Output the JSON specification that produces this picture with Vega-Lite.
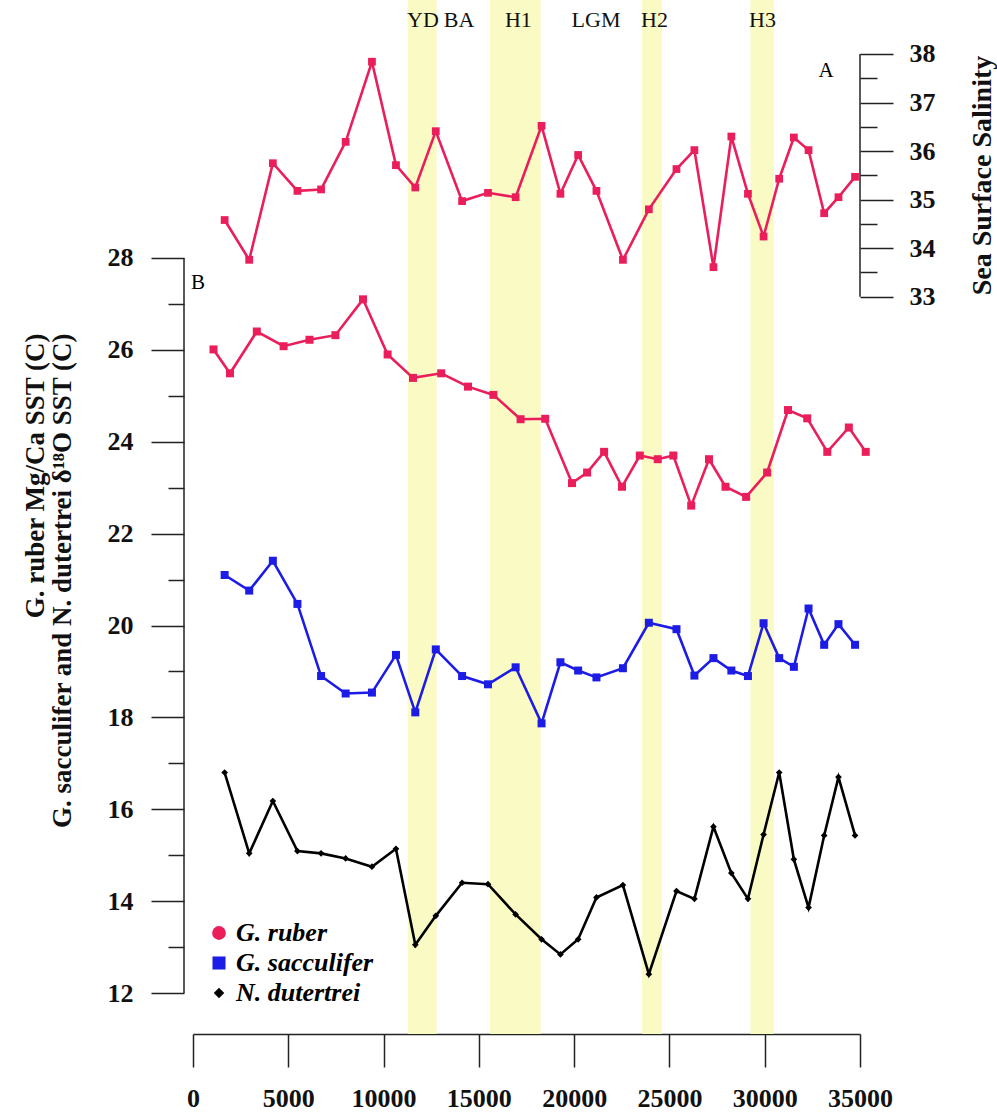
{
  "$schema": "https://vega.github.io/schema/vega-lite/v6.json",
  "width": 667,
  "height": 1034,
  "autosize": {"type": "none"},
  "padding": {"left": 193, "top": 0, "right": 137, "bottom": 80},
  "background": "white",
  "config": {
    "view": {"stroke": null},
    "axis": {"grid": false, "domainColor": "#222", "tickColor": "#222", "labelColor": "#111", "titleColor": "#111"}
  },
  "datasets": {
    "bands": [
      {"period": "YD", "start": 11266, "end": 12788},
      {"period": "H1", "start": 15585, "end": 18246},
      {"period": "H2", "start": 23561, "end": 24610},
      {"period": "H3", "start": 29254, "end": 30477}
    ],
    "periods": [
      {"label": "YD", "year": 12069},
      {"label": "BA", "year": 13958},
      {"label": "H1", "year": 17075},
      {"label": "LGM", "year": 21147},
      {"label": "H2", "year": 24217},
      {"label": "H3", "year": 29884}
    ],
    "panels": [
      {"label": "A", "year": 33216, "value": 37.65},
      {"label": "B", "year": 262, "value": 27.46}
    ],
    "sss": [
      {"year": 1660, "salinity": 34.58}, {"year": 2950, "salinity": 33.76}, {"year": 4190, "salinity": 35.75},
      {"year": 5480, "salinity": 35.18}, {"year": 6720, "salinity": 35.21}, {"year": 8010, "salinity": 36.19},
      {"year": 9390, "salinity": 37.84}, {"year": 10650, "salinity": 35.71}, {"year": 11665, "salinity": 35.25},
      {"year": 12740, "salinity": 36.41}, {"year": 14120, "salinity": 34.97}, {"year": 15480, "salinity": 35.14},
      {"year": 16930, "salinity": 35.05}, {"year": 18290, "salinity": 36.52}, {"year": 19280, "salinity": 35.12},
      {"year": 20210, "salinity": 35.92}, {"year": 21170, "salinity": 35.18}, {"year": 22560, "salinity": 33.76},
      {"year": 23920, "salinity": 34.80}, {"year": 25370, "salinity": 35.63}, {"year": 26310, "salinity": 36.02},
      {"year": 27310, "salinity": 33.61}, {"year": 28250, "salinity": 36.30}, {"year": 29120, "salinity": 35.12},
      {"year": 29940, "salinity": 34.24}, {"year": 30760, "salinity": 35.43}, {"year": 31530, "salinity": 36.28},
      {"year": 32300, "salinity": 36.02}, {"year": 33120, "salinity": 34.72}, {"year": 33870, "salinity": 35.05},
      {"year": 34740, "salinity": 35.47}
    ],
    "sst": [
      {"species": "G. ruber", "year": 1076, "sst": 26.01}, {"species": "G. ruber", "year": 1942, "sst": 25.49},
      {"species": "G. ruber", "year": 3348, "sst": 26.40}, {"species": "G. ruber", "year": 4754, "sst": 26.08},
      {"species": "G. ruber", "year": 6113, "sst": 26.22}, {"species": "G. ruber", "year": 7472, "sst": 26.32},
      {"species": "G. ruber", "year": 8921, "sst": 27.10}, {"species": "G. ruber", "year": 10212, "sst": 25.90},
      {"species": "G. ruber", "year": 11544, "sst": 25.39}, {"species": "G. ruber", "year": 13024, "sst": 25.49},
      {"species": "G. ruber", "year": 14430, "sst": 25.20}, {"species": "G. ruber", "year": 15763, "sst": 25.02},
      {"species": "G. ruber", "year": 17190, "sst": 24.49}, {"species": "G. ruber", "year": 18481, "sst": 24.50},
      {"species": "G. ruber", "year": 19888, "sst": 23.10}, {"species": "G. ruber", "year": 20680, "sst": 23.33},
      {"species": "G. ruber", "year": 21572, "sst": 23.78}, {"species": "G. ruber", "year": 22512, "sst": 23.02},
      {"species": "G. ruber", "year": 23446, "sst": 23.70}, {"species": "G. ruber", "year": 24385, "sst": 23.62},
      {"species": "G. ruber", "year": 25204, "sst": 23.70}, {"species": "G. ruber", "year": 26143, "sst": 22.61},
      {"species": "G. ruber", "year": 27077, "sst": 23.62}, {"species": "G. ruber", "year": 27943, "sst": 23.02},
      {"species": "G. ruber", "year": 29024, "sst": 22.80}, {"species": "G. ruber", "year": 30126, "sst": 23.33},
      {"species": "G. ruber", "year": 31222, "sst": 24.69}, {"species": "G. ruber", "year": 32230, "sst": 24.51},
      {"species": "G. ruber", "year": 33284, "sst": 23.78}, {"species": "G. ruber", "year": 34413, "sst": 24.31},
      {"species": "G. ruber", "year": 35300, "sst": 23.78},

      {"species": "G. sacculifer", "year": 1660, "sst": 21.10}, {"species": "G. sacculifer", "year": 2950, "sst": 20.76},
      {"species": "G. sacculifer", "year": 4190, "sst": 21.41}, {"species": "G. sacculifer", "year": 5480, "sst": 20.47},
      {"species": "G. sacculifer", "year": 6720, "sst": 18.90}, {"species": "G. sacculifer", "year": 8010, "sst": 18.52},
      {"species": "G. sacculifer", "year": 9390, "sst": 18.54}, {"species": "G. sacculifer", "year": 10650, "sst": 19.36},
      {"species": "G. sacculifer", "year": 11665, "sst": 18.11}, {"species": "G. sacculifer", "year": 12740, "sst": 19.48},
      {"species": "G. sacculifer", "year": 14120, "sst": 18.90}, {"species": "G. sacculifer", "year": 15480, "sst": 18.72},
      {"species": "G. sacculifer", "year": 16930, "sst": 19.09}, {"species": "G. sacculifer", "year": 18290, "sst": 17.87},
      {"species": "G. sacculifer", "year": 19280, "sst": 19.20}, {"species": "G. sacculifer", "year": 20210, "sst": 19.02},
      {"species": "G. sacculifer", "year": 21170, "sst": 18.87}, {"species": "G. sacculifer", "year": 22560, "sst": 19.07},
      {"species": "G. sacculifer", "year": 23920, "sst": 20.06}, {"species": "G. sacculifer", "year": 25370, "sst": 19.92},
      {"species": "G. sacculifer", "year": 26310, "sst": 18.91}, {"species": "G. sacculifer", "year": 27310, "sst": 19.29},
      {"species": "G. sacculifer", "year": 28250, "sst": 19.02}, {"species": "G. sacculifer", "year": 29120, "sst": 18.90},
      {"species": "G. sacculifer", "year": 29940, "sst": 20.05}, {"species": "G. sacculifer", "year": 30760, "sst": 19.29},
      {"species": "G. sacculifer", "year": 31530, "sst": 19.10}, {"species": "G. sacculifer", "year": 32300, "sst": 20.37},
      {"species": "G. sacculifer", "year": 33120, "sst": 19.58}, {"species": "G. sacculifer", "year": 33870, "sst": 20.03},
      {"species": "G. sacculifer", "year": 34740, "sst": 19.58},

      {"species": "N. dutertrei", "year": 1660, "sst": 16.80}, {"species": "N. dutertrei", "year": 2950, "sst": 15.04},
      {"species": "N. dutertrei", "year": 4190, "sst": 16.18}, {"species": "N. dutertrei", "year": 5480, "sst": 15.09},
      {"species": "N. dutertrei", "year": 6720, "sst": 15.04}, {"species": "N. dutertrei", "year": 8010, "sst": 14.93},
      {"species": "N. dutertrei", "year": 9390, "sst": 14.75}, {"species": "N. dutertrei", "year": 10650, "sst": 15.14},
      {"species": "N. dutertrei", "year": 11665, "sst": 13.05}, {"species": "N. dutertrei", "year": 12740, "sst": 13.68},
      {"species": "N. dutertrei", "year": 14120, "sst": 14.40}, {"species": "N. dutertrei", "year": 15480, "sst": 14.37},
      {"species": "N. dutertrei", "year": 16930, "sst": 13.71}, {"species": "N. dutertrei", "year": 18290, "sst": 13.17},
      {"species": "N. dutertrei", "year": 19280, "sst": 12.84}, {"species": "N. dutertrei", "year": 20210, "sst": 13.17},
      {"species": "N. dutertrei", "year": 21170, "sst": 14.08}, {"species": "N. dutertrei", "year": 22560, "sst": 14.35},
      {"species": "N. dutertrei", "year": 23920, "sst": 12.41}, {"species": "N. dutertrei", "year": 25370, "sst": 14.22},
      {"species": "N. dutertrei", "year": 26310, "sst": 14.05}, {"species": "N. dutertrei", "year": 27310, "sst": 15.62},
      {"species": "N. dutertrei", "year": 28250, "sst": 14.61}, {"species": "N. dutertrei", "year": 29120, "sst": 14.05},
      {"species": "N. dutertrei", "year": 29940, "sst": 15.45}, {"species": "N. dutertrei", "year": 30760, "sst": 16.80},
      {"species": "N. dutertrei", "year": 31530, "sst": 14.91}, {"species": "N. dutertrei", "year": 32300, "sst": 13.86},
      {"species": "N. dutertrei", "year": 33120, "sst": 15.43}, {"species": "N. dutertrei", "year": 33870, "sst": 16.70},
      {"species": "N. dutertrei", "year": 34740, "sst": 15.43}
    ]
  },
  "layer": [
    {
      "data": {"name": "bands"},
      "mark": {"type": "rect", "color": "#fafac4"},
      "encoding": {
        "x": {
          "field": "start", "type": "quantitative",
          "scale": {"domain": [0, 35000], "nice": false, "zero": false},
          "axis": {
            "orient": "bottom",
            "values": [0, 5000, 10000, 15000, 20000, 25000, 30000, 35000],
            "format": "d",
            "tickSize": 33, "tickWidth": 1.5, "domainWidth": 1.5, "domainColor": "#222",
            "labelPadding": 18, "labelFont": "Liberation Serif", "labelFontWeight": "bold", "labelFontSize": 26,
            "labelColor": "#111", "labelFlush": false, "labelOverlap": false, "labelAngle": 0,
            "title": null, "grid": false
          }
        },
        "x2": {"field": "end"}
      }
    },
    {
      "data": {"name": "sst"},
      "layer": [
        {
          "mark": {"type": "line", "strokeWidth": 2.6},
          "encoding": {
            "x": {"field": "year", "type": "quantitative", "scale": {"domain": [0, 35000], "nice": false, "zero": false}, "axis": null},
            "y": {
              "field": "sst", "type": "quantitative",
              "scale": {"domain": [11.108, 33.616], "nice": false, "zero": false},
              "axis": {
                "orient": "left", "offset": 9, "domain": false,
                "values": [12, 14, 16, 18, 20, 22, 24, 26, 28],
                "tickSize": 33, "tickWidth": 1.5, "tickColor": "#222",
                "labelPadding": 18, "labelFont": "Liberation Serif", "labelFontWeight": "bold", "labelFontSize": 26,
                "labelColor": "#111", "labelFlush": false, "labelOverlap": false, "labelBaseline": "middle",
                "title": ["G. ruber Mg/Ca SST (C)", "G. sacculifer and N. dutertrei δ¹⁸O SST (C)"],
                "titleFont": "Liberation Serif", "titleFontWeight": "bold", "titleFontSize": 27,
                "titleAngle": 270, "titleAlign": "right", "titleBaseline": "alphabetic",
                "titleX": -141, "titleY": 333, "titleLineHeight": 27, "titleColor": "#111", "grid": false
              }
            },
            "stroke": {
              "field": "species", "type": "nominal",
              "scale": {"domain": ["N. dutertrei", "G. sacculifer", "G. ruber"], "range": ["#000000", "#1c1ce6", "#e91e5a"]},
              "legend": null
            }
          }
        },
        {
          "transform": [{"filter": "datum.species !== 'N. dutertrei'"}],
          "mark": {"type": "point", "filled": true, "opacity": 1, "shape": "square", "size": 64},
          "encoding": {
            "x": {"field": "year", "type": "quantitative", "scale": {"domain": [0, 35000], "nice": false, "zero": false}, "axis": null},
            "y": {
              "field": "sst", "type": "quantitative",
              "scale": {"domain": [11.108, 33.616], "nice": false, "zero": false},
              "axis": {
                "orient": "left", "offset": 9, "domain": false, "labels": false,
                "values": [13, 15, 17, 19, 21, 23, 25, 27],
                "tickSize": 16, "tickWidth": 1.5, "tickColor": "#222",
                "title": null, "grid": false
              }
            },
            "fill": {
              "field": "species", "type": "nominal",
              "scale": {"domain": ["G. ruber", "G. sacculifer", "N. dutertrei"], "range": ["#e91e5a", "#1c1ce6", "#000000"]},
              "legend": {
                "orient": "none", "legendX": 13, "legendY": 920, "title": null, "padding": 0, "rowPadding": 4,
                "labelFont": "Liberation Serif", "labelFontSize": 26, "labelFontStyle": "italic", "labelFontWeight": "bold",
                "labelColor": "#000", "labelOffset": 4, "labelLimit": 400, "symbolStrokeWidth": 0, "symbolOpacity": 1,
                "symbolSize": 190,
                "encode": {
                  "symbols": {
                    "update": {
                      "shape": {"signal": "datum.value === 'G. ruber' ? 'circle' : datum.value === 'N. dutertrei' ? 'diamond' : 'square'"},
                      "size": {"signal": "datum.value === 'G. ruber' ? 190 : datum.value === 'N. dutertrei' ? 110 : 170"}
                    }
                  }
                }
              }
            }
          }
        },
        {
          "transform": [{"filter": "datum.species === 'N. dutertrei'"}],
          "mark": {"type": "point", "filled": true, "opacity": 1, "shape": "diamond", "size": 45},
          "encoding": {
            "x": {"field": "year", "type": "quantitative", "scale": {"domain": [0, 35000], "nice": false, "zero": false}, "axis": null},
            "y": {"field": "sst", "type": "quantitative", "scale": {"domain": [11.108, 33.616], "nice": false, "zero": false}, "axis": null},
            "fill": {
              "field": "species", "type": "nominal",
              "scale": {"domain": ["G. ruber", "G. sacculifer", "N. dutertrei"], "range": ["#e91e5a", "#1c1ce6", "#000000"]}
            }
          }
        },
        {
          "data": {"values": [{}]},
          "mark": {"type": "rule", "xOffset": -9, "color": "#222", "strokeWidth": 1.5},
          "encoding": {
            "x": {"datum": 0, "type": "quantitative", "scale": {"domain": [0, 35000], "nice": false, "zero": false},
              "axis": {
                "orient": "bottom", "domain": false, "labels": false,
                "values": [1000,2000,3000,4000,6000,7000,8000,9000,11000,12000,13000,14000,16000,17000,18000,19000,21000,22000,23000,24000,26000,27000,28000,29000,31000,32000,33000,34000],
                "tickSize": 16, "tickWidth": 1.5, "tickColor": "#222", "title": null, "grid": false
              }
            },
            "y": {"datum": 12, "type": "quantitative", "scale": {"domain": [11.108, 33.616], "nice": false, "zero": false}, "axis": null},
            "y2": {"datum": 28}
          }
        },
        {
          "data": {"name": "panels"},
          "transform": [{"filter": "datum.label === 'B'"}],
          "mark": {"type": "text", "font": "Liberation Serif", "fontSize": 21, "color": "#000"},
          "encoding": {
            "x": {"field": "year", "type": "quantitative", "scale": {"domain": [0, 35000], "nice": false, "zero": false}, "axis": null},
            "y": {"field": "value", "type": "quantitative", "scale": {"domain": [11.108, 33.616], "nice": false, "zero": false}, "axis": null},
            "text": {"field": "label"}
          }
        }
      ],
      "resolve": {"axis": {"y": "independent"}}
    },
    {
      "layer": [
        {
          "data": {"name": "sss"},
          "mark": {"type": "line", "strokeWidth": 2.6, "color": "#e91e5a", "point": {"shape": "square", "size": 60, "filled": true, "color": "#e91e5a"}},
          "encoding": {
            "x": {"field": "year", "type": "quantitative", "scale": {"domain": [0, 35000], "nice": false, "zero": false}, "axis": null},
            "y": {
              "field": "salinity", "type": "quantitative",
              "scale": {"domain": [17.814, 39.112], "nice": false, "zero": false},
              "axis": {
                "orient": "right", "offset": 0, "domain": false,
                "values": [33, 34, 35, 36, 37, 38],
                "tickSize": 33, "tickWidth": 1.5, "tickColor": "#222",
                "labelPadding": 16, "labelFont": "Liberation Serif", "labelFontWeight": "bold", "labelFontSize": 26,
                "labelColor": "#111", "labelFlush": false, "labelOverlap": false, "labelBaseline": "middle",
                "title": "Sea Surface Salinity", "titleFont": "Liberation Serif", "titleFontWeight": "bold", "titleFontSize": 28,
                "titleAngle": 270, "titleAlign": "center", "titleBaseline": "alphabetic", "titleX": 130, "titleY": 175,
                "titleColor": "#111", "grid": false
              }
            }
          }
        },
        {
          "data": {"values": [{}]},
          "mark": {"type": "rule", "color": "#222", "strokeWidth": 1.5},
          "encoding": {
            "x": {"datum": 35000, "type": "quantitative", "scale": {"domain": [0, 35000], "nice": false, "zero": false}, "axis": null},
            "y": {"datum": 33, "type": "quantitative", "scale": {"domain": [17.814, 39.112], "nice": false, "zero": false},
              "axis": {
                "orient": "right", "offset": 0, "domain": false, "labels": false,
                "values": [33.5, 34.5, 35.5, 36.5, 37.5],
                "tickSize": 17, "tickWidth": 1.5, "tickColor": "#222", "title": null, "grid": false
              }
            },
            "y2": {"datum": 38}
          }
        },
        {
          "data": {"name": "periods"},
          "mark": {"type": "text", "font": "Liberation Serif", "fontSize": 22, "color": "#111"},
          "encoding": {
            "x": {"field": "year", "type": "quantitative", "scale": {"domain": [0, 35000], "nice": false, "zero": false}, "axis": null},
            "y": {"datum": 38.7, "type": "quantitative", "scale": {"domain": [17.814, 39.112], "nice": false, "zero": false}, "axis": null},
            "text": {"field": "label"}
          }
        },
        {
          "data": {"name": "panels"},
          "transform": [{"filter": "datum.label === 'A'"}],
          "mark": {"type": "text", "font": "Liberation Serif", "fontSize": 21, "color": "#000"},
          "encoding": {
            "x": {"field": "year", "type": "quantitative", "scale": {"domain": [0, 35000], "nice": false, "zero": false}, "axis": null},
            "y": {"field": "value", "type": "quantitative", "scale": {"domain": [17.814, 39.112], "nice": false, "zero": false}, "axis": null},
            "text": {"field": "label"}
          }
        }
      ],
      "resolve": {"axis": {"y": "independent"}}
    }
  ],
  "resolve": {"scale": {"y": "independent"}, "axis": {"x": "independent", "y": "independent"}}
}
